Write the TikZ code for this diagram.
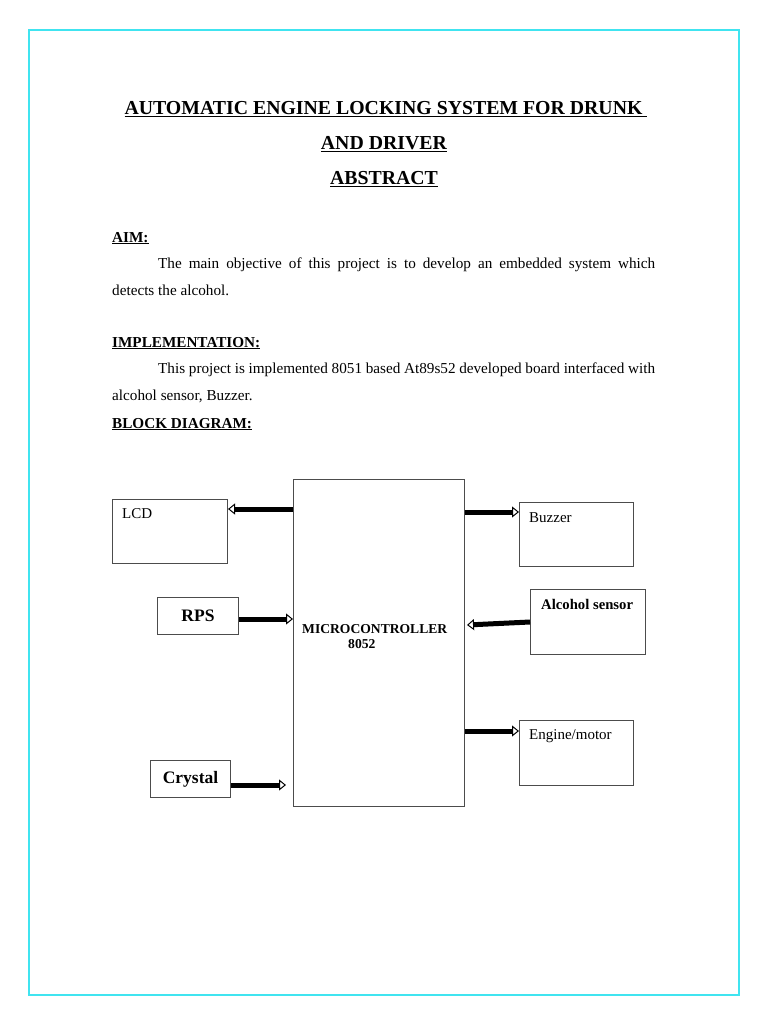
\documentclass[tikz,border=0pt]{standalone}
\usepackage{fontspec}
\setmainfont{Liberation Serif}
\usetikzlibrary{arrows.meta,calc}
\definecolor{framecyan}{RGB}{64,228,240}
\newcommand{\fs}[1]{\fontsize{#1}{#1}\selectfont}
\newcommand{\hd}[1]{\underline{\textbf{#1}}}

\tikzset{
	blk/.style={draw=black!70, line width=1pt, inner sep=0pt, anchor=north west},
	lbl/.style={anchor=base west, inner sep=0pt, font=\fs{15}},
	txt/.style={anchor=base west, inner sep=0pt, font=\fs{15.2}},
	link/.style={line width=5pt, -{Triangle[open,length=7pt,width=11pt,line width=1pt]}},
}

\begin{document}
\begin{tikzpicture}[x=1pt,y=-1pt]
	\useasboundingbox (0,0) rectangle (768,1024);
	\draw[framecyan, line width=2pt] (29,30) rectangle (739,995);
	% title
	\node[anchor=base, inner sep=0pt, font=\fs{19.8}] (t1) at (386,115) {\hd{AUTOMATIC ENGINE LOCKING SYSTEM FOR DRUNK\ }};
	\node[anchor=base, inner sep=0pt, font=\fs{19.8}] (t2) at (384,150) {\hd{AND DRIVER}};
	\node[anchor=base, inner sep=0pt, font=\fs{19.8}] (t3) at (384,185) {\hd{ABSTRACT}};
	% text
	\node[txt] (aim) at (112,242) {\hd{AIM:}};
	\node[txt] (aim1) at (158,268) {\makebox[497pt][s]{The main objective of this project is to develop an embedded system which}};
	\node[txt] (aim2) at (112,295) {detects the alcohol.};
	\node[txt] (imp) at (112,347) {\hd{IMPLEMENTATION:}};
	\node[txt] (imp1) at (158,373) {\makebox[497pt][s]{This project is implemented 8051 based At89s52 developed board interfaced with}};
	\node[txt] (imp2) at (112,400) {alcohol sensor, Buzzer.};
	\node[txt] (bd) at (112,428) {\hd{BLOCK DIAGRAM:}};
	% blocks
	\node[blk, minimum width=171pt, minimum height=327pt] (mc) at (293,479) {};
	\node[lbl, font=\fs{13.6}\bfseries] (mcl1) at (302,633) {MICROCONTROLLER};
	\node[lbl, font=\fs{13.6}\bfseries] (mcl2) at (348,648) {8052};
	\node[blk, minimum width=115pt, minimum height=64pt] (lcd) at (112,499) {};
	\node[lbl] at ($(lcd.north west)+(10,19)$) {LCD};
	\node[blk, minimum width=81pt, minimum height=37pt, font=\fs{17.5}\bfseries] (rps) at (157,597) {RPS};
	\node[blk, minimum width=80pt, minimum height=37pt, font=\fs{17.5}\bfseries] (crystal) at (150,760) {Crystal};
	\node[blk, minimum width=114pt, minimum height=64pt] (buzzer) at (519,502) {};
	\node[lbl] at ($(buzzer.north west)+(10,20)$) {Buzzer};
	\node[blk, minimum width=115pt, minimum height=65pt] (alcohol) at (530,589) {};
	\node[lbl, font=\fs{14.7}\bfseries] at ($(alcohol.north west)+(11,20)$) {Alcohol sensor};
	\node[blk, minimum width=114pt, minimum height=65pt] (engine) at (519,720) {};
	\node[lbl] at ($(engine.north west)+(10,19)$) {Engine/motor};
	% links
	\draw[link] ($(mc.north west)+(0,30)$) coordinate (a1) -- (a1 -| lcd.east);
	\draw[link] ($(rps.east)+(0,3)$) coordinate (a2) -- (a2 -| mc.west);
	\draw[link] ($(crystal.east)+(0,6)$) coordinate (a3) -- ($(a3 -| mc.west)+(-7,0)$);
	\draw[link] ($(buzzer.north west)+(0,10)$) coordinate (b1) (b1 -| mc.east) -- (b1);
	\draw[link] ($(alcohol.north west)+(0,33)$) -- ($(mc.north east)+(2,146)$);
	\draw[link] ($(engine.north west)+(0,11)$) coordinate (b3) (b3 -| mc.east) -- (b3);
\end{tikzpicture}
\end{document}
